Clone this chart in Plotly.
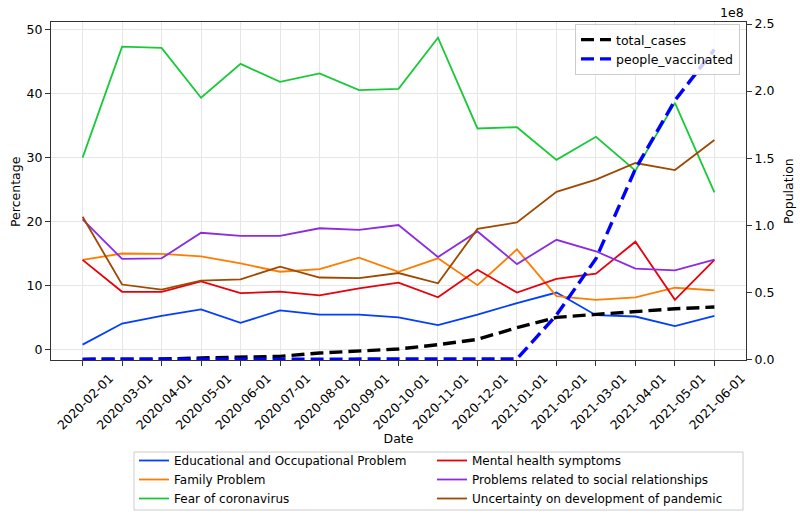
import plotly.graph_objects as go

dates = ["2020-02-01", "2020-03-01", "2020-04-01", "2020-05-01", "2020-06-01",
         "2020-07-01", "2020-08-01", "2020-09-01", "2020-10-01", "2020-11-01",
         "2020-12-01", "2021-01-01", "2021-02-01", "2021-03-01", "2021-04-01",
         "2021-05-01", "2021-06-01"]

educational = [0.8, 4.1, 5.3, 6.3, 4.2, 6.15, 5.5, 5.5, 5.05, 3.85, 5.5, 7.3, 8.95, 5.4, 5.2, 3.7, 5.3]
family = [14.05, 15.05, 15.0, 14.6, 13.5, 12.2, 12.6, 14.4, 12.2, 14.3, 10.1, 15.7, 8.4, 7.8, 8.2, 9.7, 9.3]
fear = [30.05, 47.4, 47.2, 39.4, 44.7, 41.9, 43.2, 40.6, 40.8, 48.8, 34.6, 34.8, 29.7, 33.3, 28.0, 38.6, 24.6]
mental = [14.05, 9.06, 9.06, 10.7, 8.85, 9.1, 8.5, 9.6, 10.5, 8.2, 12.5, 8.95, 11.1, 11.9, 16.9, 7.8, 14.05]
social = [20.4, 14.2, 14.3, 18.3, 17.8, 17.8, 19.0, 18.75, 19.5, 14.5, 18.5, 13.4, 17.2, 15.4, 12.7, 12.4, 14.1]
uncertainty = [20.8, 10.2, 9.4, 10.8, 11.0, 13.0, 11.3, 11.2, 12.0, 10.4, 18.9, 19.9, 24.7, 26.6, 29.2, 28.1, 32.8]

total_cases = [0.0, 0.0, 0.002e8, 0.01e8, 0.016e8, 0.022e8, 0.047e8, 0.064e8, 0.077e8, 0.109e8,
               0.149e8, 0.236e8, 0.313e8, 0.335e8, 0.355e8, 0.377e8, 0.39e8]
people_vaccinated = [0, 0, 0, 0, 0, 0, 0, 0, 0, 0, 0, 0.003e8, 0.33e8, 0.75e8, 1.42e8, 1.93e8, 2.31e8]

pct_names = ["Educational and Occupational Problem", "Family Problem", "Fear of coronavirus",
             "Mental health symptoms", "Problems related to social relationships",
             "Uncertainty on development of pandemic"]
pct_values = [educational, family, fear, mental, social, uncertainty]
pct_colors = ["#023eff", "#ff7c00", "#1ac938", "#e8000b", "#8b2be2", "#9f4800"]
legend_ranks = [1, 3, 5, 2, 4, 6]

right_ticks = [0, 0.5e8, 1.0e8, 1.5e8, 2.0e8, 2.5e8]
right_ticktext = ["0.0", "0.5", "1.0", "1.5", "2.0", "2.5"]

FONT = "DejaVu Sans"
FS = 12.5
fig = go.Figure()

for name, vals, col, rk in zip(pct_names, pct_values, pct_colors, legend_ranks):
    fig.add_trace(go.Scatter(x=dates, y=vals, name=name, mode="lines",
                             line=dict(color=col, width=1.8), legendrank=rk,
                             legend="legend"))

fig.add_trace(go.Scatter(x=dates, y=total_cases, name="total_cases", mode="lines",
                         line=dict(color="black", width=3.4, dash="13px,6px"),
                         yaxis="y2", legend="legend2"))
fig.add_trace(go.Scatter(x=dates, y=people_vaccinated, name="people_vaccinated", mode="lines",
                         line=dict(color="#0000ff", width=3.4, dash="13px,6px"),
                         yaxis="y2", legend="legend2"))

# plot area in pixels: x 51..746, y 22..360 (used to place the bottom legend frame)
PW, PH = 695.0, 338.0

fig.update_layout(
    width=800, height=519,
    margin=dict(l=51, r=54, t=22, b=159, autoexpand=False),
    paper_bgcolor="white", plot_bgcolor="white",
    font=dict(family=FONT, size=FS, color="black"),
    xaxis=dict(type="category", range=[-0.8, 16.8], tickangle=-45, ticklabelshift=27,
               showgrid=True, gridcolor="#e6e6e6", gridwidth=1,
               showline=True, linecolor="#333333", linewidth=1, mirror=True,
               ticks="outside", ticklen=5, tickcolor="#333333",
               title=dict(text="Date", font=dict(size=FS), standoff=6),
               automargin=False),
    yaxis=dict(range=[-1.6, 51.25], tickvals=[0, 10, 20, 30, 40, 50],
               showgrid=True, gridcolor="#e6e6e6", gridwidth=1, zeroline=False,
               showline=True, linecolor="#333333", linewidth=1, mirror=True,
               ticks="outside", ticklen=5, tickcolor="#333333",
               automargin=False),
    yaxis2=dict(overlaying="y", side="right", range=[-0.005e8, 2.515e8],
                tickvals=right_ticks, ticktext=right_ticktext,
                showgrid=False, zeroline=False,
                showline=True, linecolor="#333333", linewidth=1,
                ticks="outside", ticklen=5, tickcolor="#333333",
                automargin=False),
    legend=dict(orientation="h", xref="container", yref="container",
                x=134 / 800, y=1 - 446 / 519, xanchor="left", yanchor="top",
                bgcolor="rgba(0,0,0,0)", borderwidth=0,
                font=dict(size=12), entrywidth=253, itemwidth=30, tracegroupgap=0,
                traceorder="normal"),
    legend2=dict(xref="container", yref="container",
                 x=740 / 800, y=1 - 24 / 519, xanchor="right", yanchor="top",
                 bgcolor="rgba(255,255,255,0.8)", bordercolor="#cccccc", borderwidth=1,
                 font=dict(size=FS), itemwidth=30, tracegroupgap=0),
    shapes=[dict(type="rect", xref="paper", yref="paper",
                 x0=(134 - 51) / PW, x1=(743 - 51) / PW,
                 y0=(360 - 510) / PH, y1=(360 - 452) / PH,
                 line=dict(color="#cccccc", width=1), fillcolor="white", layer="above")],
    annotations=[
        dict(text="1e8", x=1, y=1, xref="paper", yref="paper",
             xanchor="right", yanchor="bottom", showarrow=False, font=dict(size=FS)),
        dict(text="Percentage", x=-0.0518, y=0.5, xref="paper", yref="paper",
             xanchor="center", yanchor="middle", textangle=-90, showarrow=False,
             font=dict(size=FS)),
        dict(text="Population", x=1.0604, y=0.5, xref="paper", yref="paper",
             xanchor="center", yanchor="middle", textangle=-90, showarrow=False,
             font=dict(size=FS)),
    ],
)

fig.write_html("out.html", config={"displayModeBar": False},
               post_script="document.body.style.margin='0';")
